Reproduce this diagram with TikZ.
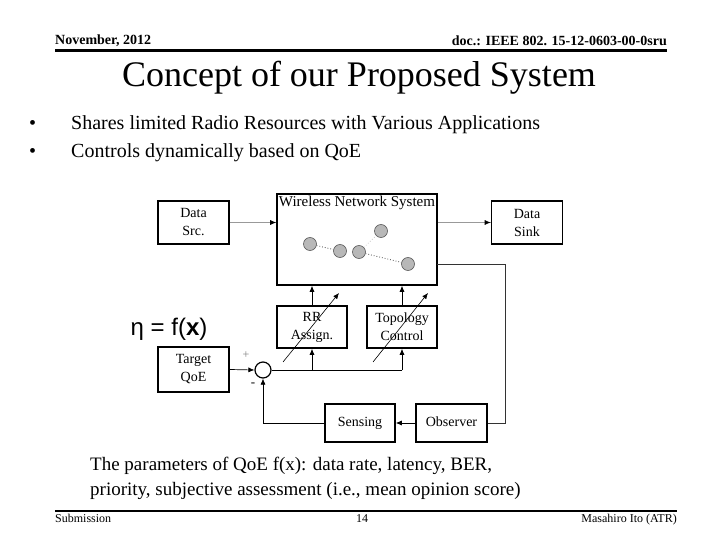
\documentclass[tikz,border=0pt]{standalone}
\usepackage{fontspec}
\setmainfont{Liberation Serif}
\newfontfamily\sansf{Liberation Sans}
\usetikzlibrary{arrows.meta}
\tikzset{
  box/.style={draw, line width=1.6pt, minimum width=71pt, minimum height=43pt, align=center,
    font=\fontsize{14}{18}\selectfont, inner sep=1pt},
  onebox/.style={box, text height=10pt, text depth=3pt},
  arr/.style={-{Latex[length=6pt,width=5pt]}, line width=0.7pt},
  graylink/.style={draw=black!40, line width=0.9pt},
  netnode/.style={circle, draw=black!65, fill=black!28, line width=0.6pt, minimum size=13pt, inner sep=0pt},
  hdr/.style={font=\fontsize{14}{16}\selectfont\bfseries, inner sep=0pt},
  ftr/.style={font=\fontsize{12}{14}\selectfont, inner sep=0pt},
  body/.style={font=\fontsize{20}{24}\selectfont, inner sep=0pt},
}
\begin{document}
\begin{tikzpicture}[x=1pt,y=-1pt]
\useasboundingbox[fill=white] (0,0) rectangle (720,540);

% header
\node[hdr, anchor=base west] (hl) at (55,45) {November, 2012};
\node[hdr, anchor=base east] (hr) at (667,46) {doc.: IEEE 802. 15-12-0603-00-0sru};
\coordinate (hla) at (55,50.5);
\coordinate (hlb) at (667,50.5);
\draw[line width=2.2pt] (hla) -- (hlb);

% title
\node[font=\fontsize{36}{40}\selectfont, anchor=base, inner sep=0pt] (title) at (359,87) {Concept of our Proposed System};

% bullets
\node[body, anchor=base west] (b1) at (29,130) {•};
\node[body, anchor=base west] (t1) at (71,130) {Shares limited Radio Resources with Various Applications};
\node[body, anchor=base west] (b2) at (29,158) {•};
\node[body, anchor=base west] (t2) at (71,158) {Controls dynamically based on QoE};

% boxes
\node[box] (src) at (193.5,222.5) {Data\\Src.};
\node[box, minimum width=160pt, minimum height=91pt] (wns) at (357,239.5) {};
\node[font=\fontsize{15}{16}\selectfont, inner sep=0pt] (wnst) at (357,203) {Wireless Network System};
\node[box] (sink) at (527,222.5) {Data\\Sink};
\node[box, minimum width=70pt, minimum height=42pt] (rr) at (312,327) {RR\\Assign.};
\node[box, minimum width=70pt, minimum height=42pt] (topo) at (402,327) {Topology\\Control};
\node[onebox, minimum width=70pt, minimum height=38pt] (sens) at (360,423) {Sensing};
\node[onebox, minimum width=71pt, minimum height=38pt] (obs) at (451.5,423) {Observer};
\node[box, minimum height=45pt] (tgt) at (193.5,369.5) {Target\\QoE};
\node[circle, draw, line width=1.2pt, minimum size=16pt, inner sep=0pt] (sum) at (263,370) {};

% network nodes
\node[netnode] (n1) at (310,244) {};
\node[netnode] (n2) at (340,251) {};
\node[netnode] (n3) at (359,252) {};
\node[netnode] (n4) at (381,231) {};
\node[netnode] (n5) at (408,264) {};
\draw[dotted, line width=0.8pt, black!70] (n1) -- (n2);
\draw[dotted, line width=0.8pt, black!70] (n3) -- (n5);
\draw[dotted, line width=0.8pt, black!20] (n3) -- (n4);

% eta
\node[font=\sansf\fontsize{24}{28}\selectfont, anchor=base, inner sep=0pt] (eta) at (169,335) {η = f(\textbf{x})};

% signs
\node[font=\fontsize{12}{14}\selectfont, text=black!50, inner sep=0pt] (plus) at (246,355) {+};
\node[font=\fontsize{13}{14}\selectfont, inner sep=0pt] (minus) at (253,385) {-};

% connectors
\coordinate (wnsin) at (src.east -| wns.west);
\coordinate (sinkin) at (sink.west);
\draw[graylink] (src.east) -- (wnsin);
\draw[arr] ([xshift=-4pt]wnsin) -- (wnsin);
\draw[graylink] (wns.east |- sink.west) -- (sinkin);
\draw[arr] ([xshift=-4pt]sinkin) -- (sinkin);

\coordinate (fbA) at (437,264);
\coordinate (fbB) at (505,264);
\coordinate (fbC) at (505,423);
\draw[line width=0.7pt, black!80] (fbA) -- (fbB) -- (fbC) -- (obs.east);
\draw[arr] (obs.west) -- (sens.east);
\draw[arr] (sens.west) -| (sum.south);
\draw[arr] (tgt.east) -- (sum.west);
\coordinate (br1) at (312,370);
\coordinate (br2) at (402,370);
\draw[line width=0.7pt] (sum.east) -- (br2);
\draw[arr] (br1) -- (rr.south);
\draw[arr] (br2) -- (topo.south);
\draw[arr] (rr.north) -- (rr.north |- wns.south);
\draw[arr] (topo.north) -- (topo.north |- wns.south);

% variable-element arrows
\coordinate (d1a) at (283,362);
\coordinate (d1b) at (339,293);
\coordinate (d2a) at (373,362);
\coordinate (d2b) at (428,293);
\draw[arr, line width=0.6pt] (d1a) -- (d1b);
\draw[arr, line width=0.6pt] (d2a) -- (d2b);

% caption
\node[font=\fontsize{19}{22}\selectfont, anchor=base west, inner sep=0pt] (cap1) at (90,470) {The parameters of QoE f(x): data rate, latency, BER,};
\node[font=\fontsize{19}{22}\selectfont, anchor=base west, inner sep=0pt] (cap2) at (90,495) {priority, subjective assessment (i.e., mean opinion score)};

% footer
\coordinate (fla) at (55,511);
\coordinate (flb) at (677,511);
\draw[line width=2.2pt] (fla) -- (flb);
\node[ftr, anchor=base west] (sub) at (55,522) {Submission};
\node[ftr, anchor=base] (pg) at (362,522) {14};
\node[ftr, anchor=base east] (auth) at (677,522) {Masahiro Ito (ATR)};
\end{tikzpicture}
\end{document}
